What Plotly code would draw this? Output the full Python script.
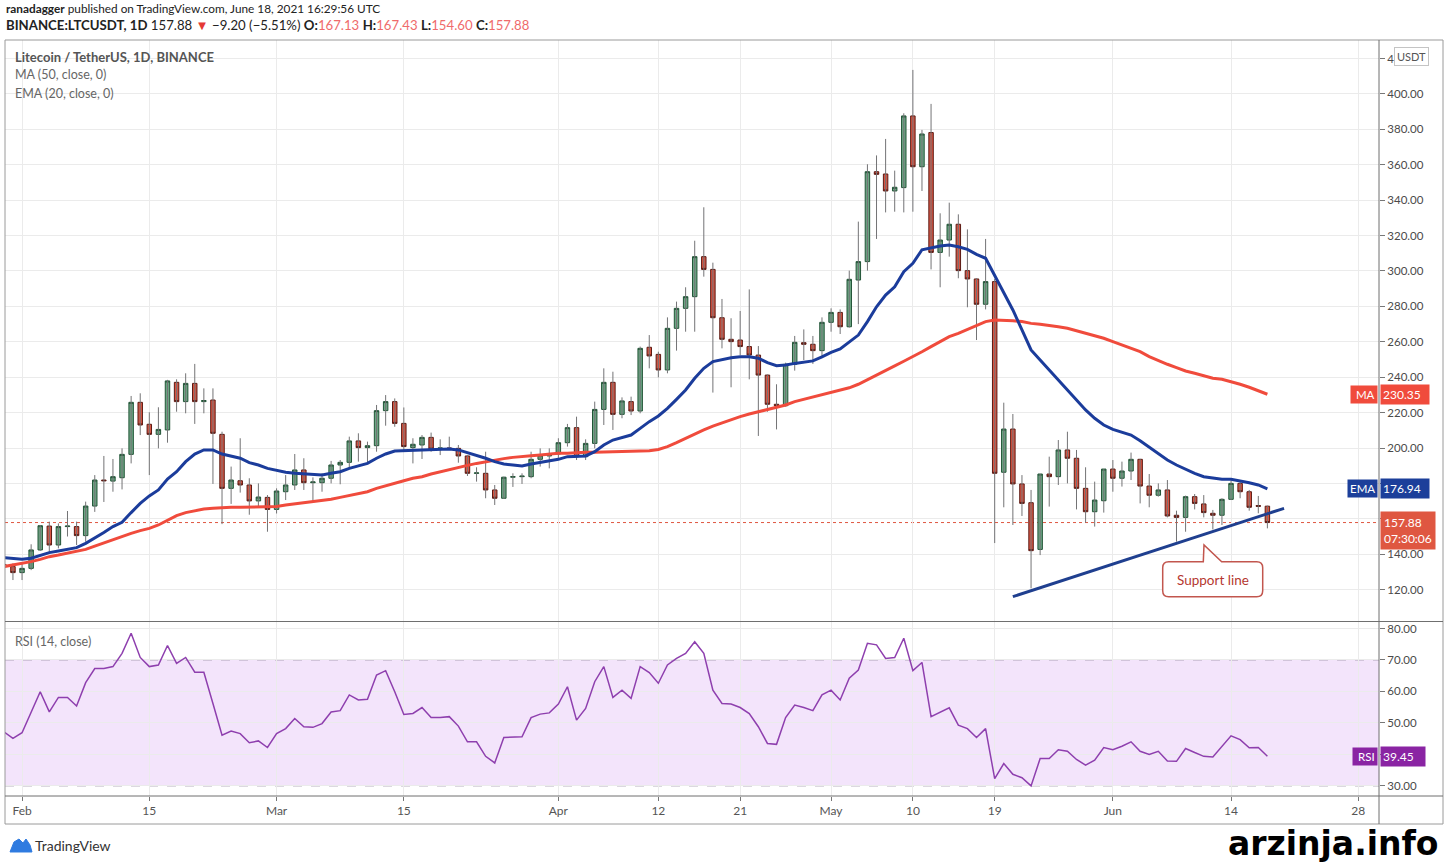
import plotly.graph_objects as go
import pandas as pd

# ---------------- data ----------------
dates = pd.date_range("2021-01-30", periods=140, freq="D")

open_ = [134.2, 133.0,
         129.6, 132.0, 142.4, 155.9, 145.2, 155.6, 155.6, 150.5, 167.2, 181.9, 181.3, 183.2, 196.4, 225.8,
         213.4, 207.7, 210.2, 237.1, 226.2, 236.5, 226.2, 227.1, 207.7, 177.2, 181.5, 179.1, 170.1, 172.1,
         165.3, 175.3, 179.1, 187.6, 180.4, 180.4, 182.9, 190.4, 191.9, 204.0, 200.2, 201.3, 221.1, 226.2,
         213.9, 200.2, 201.7, 206.0, 199.8, 200.0, 199.8, 195.5, 185.7, 185.7, 176.3, 171.6, 183.5, 183.8,
         183.8, 193.6, 195.5,
         196.6, 203.0, 211.5, 195.1, 202.6, 221.8, 237.1, 219.0, 226.2, 220.9, 256.9, 252.9, 244.1, 267.6,
         278.9, 285.5, 308.1, 300.9, 273.6, 261.4, 261.0, 257.3, 252.5, 241.2, 224.7, 223.9, 247.3, 259.5,
         258.6, 255.0,
         271.0, 276.6, 268.5, 294.9, 305.3, 356.1, 354.8, 345.2, 347.1, 387.6, 358.9, 378.2, 310.5, 317.5,
         326.4, 300.2, 295.5, 281.2, 294.0, 186.3, 210.7, 179.7, 169.1, 142.7, 185.3, 183.8, 198.9, 194.2,
         177.2, 164.0, 170.2,
         188.1, 182.9, 187.0, 193.6, 178.5, 173.3, 176.3, 162.0, 160.8, 172.5, 168.4, 163.1, 162.0, 171.0,
         180.0, 175.3, 167.5, 167.13]

high = [135.5, 134.8,
        134.8, 145.6, 156.5, 158.4, 157.4, 164.4, 158.4, 169.7, 184.7, 195.5, 193.8, 199.8, 229.4, 230.9,
        220.2, 223.0, 238.5, 238.8, 242.2, 247.5, 233.7, 233.7, 209.2, 189.5, 205.5, 182.9, 180.0, 173.4,
        177.2, 184.7, 196.6, 194.2, 183.4, 185.7, 192.7, 193.2, 206.4, 208.3, 203.6, 224.3, 229.9, 228.0,
        222.9, 205.5, 207.3, 208.7, 204.9, 206.4, 201.7, 195.9, 189.1, 197.9, 179.1, 183.8, 185.7, 185.7,
        197.9, 199.8, 199.8,
        205.5, 213.6, 217.7, 204.9, 226.2, 245.0, 243.1, 228.6, 229.0, 257.3, 263.8, 254.4, 273.8, 282.7,
        290.8, 317.1, 336.0, 304.7, 284.2, 273.3, 277.4, 289.6, 257.6, 241.5, 236.0, 248.2, 263.3, 267.0,
        263.3, 273.8,
        278.9, 278.3, 300.2, 327.9, 360.3, 365.3, 374.6, 356.7, 389.1, 413.6, 379.7, 394.4, 332.6, 338.6,
        332.0, 323.5, 295.9, 318.1, 295.5, 225.6, 219.2, 184.7, 176.3, 185.3, 195.1, 204.5, 209.2, 198.9,
        189.1, 181.0, 188.1,
        193.2, 192.3, 197.4, 193.9, 185.3, 180.0, 181.9, 164.6, 173.1, 174.0, 173.4, 165.0, 171.6, 181.5,
        181.5, 176.3, 172.9, 167.43]

low = [130.5, 125.4,
       125.4, 131.0, 141.8, 140.5, 143.3, 150.0, 145.2, 147.1, 163.9, 169.5, 175.3, 176.6, 191.3, 207.3,
       184.7, 199.8, 203.0, 220.5, 219.6, 213.6, 219.6, 179.7, 157.0, 168.4, 174.8, 162.3, 166.9, 152.7,
       163.0, 170.6, 176.3, 176.3, 169.7, 175.3, 180.0, 179.5, 188.5, 192.3, 191.3, 197.9, 212.6, 212.0,
       197.9, 191.3, 193.8, 197.9, 196.0, 198.9, 191.7, 184.2, 181.0, 171.6, 167.8, 171.2, 178.0, 179.7,
       182.9, 189.5, 188.5,
       194.2, 200.8, 193.2, 193.2, 199.8, 213.0, 210.2, 216.8, 218.6, 219.6, 245.0, 239.9, 242.2, 255.0,
       265.7, 265.7, 296.8, 231.3, 256.3, 234.3, 252.5, 238.8, 206.8, 220.5, 210.5, 223.4, 243.7, 249.7,
       247.5, 251.6,
       265.7, 264.4, 268.0, 270.0, 300.2, 318.1, 333.1, 333.5, 333.1, 333.5, 345.2, 300.9, 290.8, 308.1,
       295.9, 279.5, 261.0, 278.3, 146.3, 166.5, 156.5, 161.6, 120.7, 139.5, 166.9, 179.1, 180.0, 165.3,
       157.8, 155.6, 163.5,
       175.3, 178.2, 181.9, 168.7, 166.5, 172.5, 160.8, 147.1, 152.7, 165.3, 160.8, 154.0, 156.5, 170.6,
       171.6, 164.6, 163.1, 154.60]

close = [132.8, 129.6,
         132.0, 142.4, 156.1, 145.2, 155.6, 155.9, 150.5, 167.2, 181.9, 181.5, 183.8, 196.4, 225.8, 213.0,
         207.7, 210.5, 237.9, 226.2, 236.5, 226.2, 226.8, 208.3, 177.2, 181.9, 179.1, 170.1, 172.3, 165.3,
         175.7, 179.1, 187.6, 180.4, 180.8, 182.9, 190.4, 191.9, 204.0, 200.2, 201.3, 221.1, 226.2, 213.9,
         200.8, 202.1, 206.0, 199.4, 200.0, 199.8, 195.5, 185.7, 185.9, 176.3, 171.6, 183.5, 183.8, 184.1,
         193.6, 196.0, 196.6,
         203.0, 211.5, 195.1, 202.6, 221.8, 237.1, 219.0, 226.6, 220.9, 256.3, 252.0, 244.1, 267.6, 278.9,
         285.5, 308.1, 300.9, 273.6, 261.4, 260.1, 257.3, 252.5, 241.2, 224.7, 223.9, 247.3, 259.7, 258.6,
         255.0, 271.0,
         276.6, 268.5, 295.3, 305.3, 356.1, 354.6, 345.2, 347.3, 387.6, 358.9, 377.4, 310.5, 317.5, 326.4,
         300.2, 295.5, 281.2, 294.0, 185.7, 210.7, 179.7, 168.7, 142.0, 185.3, 183.8, 198.9, 194.2, 177.2,
         164.0, 170.6, 188.1,
         182.9, 187.0, 193.6, 178.5, 173.3, 176.3, 161.6, 160.8, 172.5, 168.7, 163.5, 162.0, 171.0, 180.0,
         175.3, 166.5, 167.08, 157.88]

ema20 = [138.0, 137.4,
         137.1, 137.7, 139.5, 140.9, 141.8, 142.7, 143.7, 146.1, 149.0, 152.2, 155.6, 158.0, 163.5, 168.7,
         172.9, 176.3, 182.5, 186.6, 192.3, 196.6, 198.9, 198.9, 196.6, 195.5, 194.2, 191.7, 190.4, 188.5,
         187.2, 186.3, 185.7, 185.3, 184.7, 184.7, 185.7, 186.6, 188.5, 189.8, 191.3, 194.2, 196.6, 198.3,
         198.5, 198.9, 199.2, 199.4, 199.4, 199.4, 198.9, 197.4, 195.5, 194.2, 192.3, 191.0, 190.4, 189.8,
         191.0, 191.8, 192.5,
         193.6, 195.1, 195.1, 195.5, 197.9, 201.7, 204.5, 206.0, 207.3, 211.1, 214.9, 218.1, 222.4, 227.5,
         232.8, 239.4, 245.0, 248.8, 250.1, 251.0, 251.6, 251.6, 250.7, 248.2, 246.5, 246.9, 247.8, 248.4,
         249.2, 251.5,
         254.0, 256.0, 259.8, 263.8, 271.4, 279.8, 286.4, 291.1, 299.6, 304.3, 312.0, 313.2, 314.1, 314.7,
         313.7, 312.2, 309.4, 307.2, 297.5, 287.4, 278.0, 266.7, 255.4, 249.7, 244.1, 238.4, 233.1, 227.1,
         221.5, 216.8, 213.0,
         210.5, 208.9, 207.3, 204.1, 200.4, 197.0, 193.2, 190.4, 187.9, 185.7, 183.8, 182.9, 182.3, 182.3,
         181.5, 180.4, 179.1, 176.94]

ma50 = [133.0, 133.9,
        134.8, 135.8, 137.1, 138.6, 139.5, 140.5, 141.4, 142.7, 144.6, 146.5, 148.4, 149.9, 151.8, 153.3,
        154.6, 156.5, 159.3, 161.8, 163.5, 164.6, 165.5, 165.9, 166.3, 166.5, 166.5, 166.5, 166.5, 166.7,
        166.9, 167.8, 168.4, 169.1, 169.7, 170.2, 171.0, 172.1, 173.1, 174.0, 175.3, 177.2, 178.5, 180.0,
        181.5, 182.9, 183.8, 185.3, 186.6, 187.9, 189.1, 190.2, 191.3, 192.3, 193.2, 194.0, 194.7, 195.3,
        195.6, 196.0, 196.6,
        197.0, 197.0, 197.4, 197.6, 197.6, 197.7, 197.7, 197.9, 197.9, 198.3, 198.5, 199.2, 200.8, 203.0,
        205.5, 207.7, 210.2, 212.4, 214.3, 215.8, 217.7, 219.2, 220.5, 221.8, 223.4, 224.3, 226.2, 227.5,
        228.6, 229.8,
        231.0, 232.5, 234.0, 236.0, 238.5, 241.0, 243.8, 246.4, 249.0, 251.6, 254.4, 257.3, 260.1, 262.9,
        264.8, 267.0, 269.5, 271.4, 272.3, 272.3, 271.9, 271.4, 270.4, 269.9, 269.3, 268.5, 267.6, 266.3,
        264.8, 263.3, 262.0,
        260.1, 258.2, 256.3, 254.4, 251.6, 249.3, 247.3, 245.4, 243.5, 242.2, 240.7, 239.4, 238.8, 237.5,
        236.0, 234.3, 232.4, 230.35]

rsi14 = [47.2, 45.1,
         46.9, 53.2, 59.9, 53.5, 58.1, 58.1, 55.4, 62.8, 67.3, 67.3, 67.9, 72.1, 78.5, 70.8,
         67.9, 68.4, 74.6, 68.9, 70.8, 66.1, 66.1, 56.2, 46.1, 47.4, 46.6, 43.7, 44.3, 42.2,
         46.6, 48.2, 51.4, 48.8, 48.6, 49.8, 53.5, 53.9, 58.9, 57.3, 57.5, 65.2, 66.6, 59.9,
         52.7, 53.0, 54.9, 51.7, 51.7, 52.0, 49.0, 44.0, 44.0, 39.4, 37.3, 45.4, 45.6, 45.6,
         51.7, 52.8, 53.2,
         56.0, 61.5, 50.9, 54.6, 63.1, 67.9, 58.1, 60.4, 57.8, 67.9, 66.0, 62.6, 68.4, 70.5,
         72.1, 75.8, 72.1, 60.4, 56.2, 56.0, 54.9, 53.0, 48.8, 43.5, 43.2, 51.7, 55.7, 54.9,
         53.9, 58.9,
         60.4, 57.3, 64.2, 66.8, 75.3, 74.8, 70.5, 70.8, 76.9, 66.6, 69.2, 52.0, 53.5, 54.8,
         49.3, 48.2, 45.4, 48.2, 32.3, 37.1, 33.7, 32.6, 30.0, 38.7, 38.7, 41.5, 41.0, 38.4,
         36.6, 38.2, 42.2,
         41.5, 42.6, 44.0, 41.0, 40.0, 41.0, 37.9, 37.8, 41.9, 40.6, 39.4, 39.2, 42.4, 45.9,
         44.7, 42.1, 42.2, 39.45]

tick_dates = ["2021-02-01", "2021-02-15", "2021-03-01", "2021-03-15", "2021-04-01", "2021-04-12",
              "2021-04-21", "2021-05-01", "2021-05-10", "2021-05-19", "2021-06-01", "2021-06-14",
              "2021-06-28"]
tick_labels = ["Feb", "15", "Mar", "15", "Apr", "12", "21", "May", "10", "19", "Jun", "14", "28"]
price_ticks = list(range(120, 421, 20))
rsi_ticks = [30, 40, 50, 60, 70, 80]

support_x = ["2021-05-21 00:00", "2021-06-19 20:00"]
support_y = [116.0, 165.9]

last_price = 157.88
ma_last = 230.35
ema_last = 176.94
rsi_last = 39.45

# ---------------- geometry helpers (pixel -> paper) ----------------
W, H = 1448, 862
PL, PR, PT, PB = 5, 1379, 40, 796


def px(x):
    return (x - PL) / (PR - PL)


def py(y):
    return (PB - y) / (PB - PT)


FONT = "Lato"
UP_FILL, UP_LINE = "#6ba583", "#225437"
DN_FILL, DN_LINE = "#d75442", "#5b1a13"
WICK = "#737375"
MA_COL = "#f04b3c"
EMA_COL = "#1b3c9b"
RSI_COL = "#8e3fae"
GRID = "#ebebeb"
TXT = "#4a4a4a"

fig = go.Figure()

# wicks
wx, wy = [], []
for d, lo, hi in zip(dates, low, high):
    wx += [d, d, None]
    wy += [lo, hi, None]
fig.add_trace(go.Scatter(x=wx, y=wy, mode="lines", line=dict(color=WICK, width=1),
                         hoverinfo="skip", xaxis="x", yaxis="y"))

# bodies
body_hi = [max(o, c) for o, c in zip(open_, close)]
body_lo = [min(o, c) for o, c in zip(open_, close)]
fig.add_trace(go.Candlestick(
    x=dates, open=open_, high=body_hi, low=body_lo, close=close,
    increasing=dict(fillcolor=UP_FILL, line=dict(color=UP_LINE, width=1)),
    decreasing=dict(fillcolor=DN_FILL, line=dict(color=DN_LINE, width=1)),
    whiskerwidth=0, xaxis="x", yaxis="y"))

fig.add_trace(go.Scatter(x=dates, y=ma50, mode="lines", line=dict(color=MA_COL, width=3),
                         xaxis="x", yaxis="y"))
fig.add_trace(go.Scatter(x=dates, y=ema20, mode="lines", line=dict(color=EMA_COL, width=3),
                         xaxis="x", yaxis="y"))
fig.add_trace(go.Scatter(x=support_x, y=support_y, mode="lines", line=dict(color="#1f3f8f", width=3),
                         xaxis="x", yaxis="y"))
fig.add_trace(go.Scatter(x=dates, y=rsi14, mode="lines", line=dict(color=RSI_COL, width=1.5),
                         xaxis="x", yaxis="y2"))

shapes = []
# RSI band
shapes.append(dict(type="rect", xref="paper", yref="y2", x0=0, x1=1, y0=30, y1=70,
                   fillcolor="#f3e4fb", line=dict(width=0), layer="below"))
for lvl in (70, 30):
    shapes.append(dict(type="line", xref="paper", yref="y2", x0=0, x1=1, y0=lvl, y1=lvl,
                       line=dict(color="#aaa0b4", width=1, dash="dash"), layer="below"))
# last price dotted line
shapes.append(dict(type="line", xref="paper", yref="y", x0=0, x1=1, y0=last_price, y1=last_price,
                   line=dict(color="#df5741", width=1, dash="dot"), layer="below"))
# frame
FR = px(1443)
FB = py(824)
shapes.append(dict(type="rect", xref="paper", yref="paper", x0=0, x1=FR, y0=FB, y1=1,
                   line=dict(color="#9a9a9a", width=1), layer="above"))
shapes.append(dict(type="line", xref="paper", yref="paper", x0=1, x1=1, y0=FB, y1=1,
                   line=dict(color="#6f6f6f", width=1), layer="above"))
shapes.append(dict(type="line", xref="paper", yref="paper", x0=0, x1=FR, y0=0, y1=0,
                   line=dict(color="#6f6f6f", width=1), layer="above"))
shapes.append(dict(type="line", xref="paper", yref="paper", x0=0, x1=FR, y0=py(621.5), y1=py(621.5),
                   line=dict(color="#6f6f6f", width=1.2), layer="above"))

# callout box "Support line"
pts = [("M", [(1168.7, 561.7)]), ("L", [(1203.3, 561.7)]), ("L", [(1204.0, 545.0)]),
       ("L", [(1221.7, 561.7)]), ("L", [(1256.7, 561.7)]), ("Q", [(1262.7, 561.7), (1262.7, 567.7)]),
       ("L", [(1262.7, 590.7)]), ("Q", [(1262.7, 596.7), (1256.7, 596.7)]), ("L", [(1168.7, 596.7)]),
       ("Q", [(1162.7, 596.7), (1162.7, 590.7)]), ("L", [(1162.7, 567.7)]),
       ("Q", [(1162.7, 561.7), (1168.7, 561.7)])]
path = ""
for cmd, cs in pts:
    path += cmd + " " + " ".join(f"{px(a):.5f},{py(b):.5f}" for a, b in cs) + " "
path += "Z"
shapes.append(dict(type="path", xref="paper", yref="paper", path=path, fillcolor="white",
                   line=dict(color="#c2564e", width=1.5), layer="above"))

# TradingView logo (simple cloud mark)
logo = [(10, 852), (14, 842), (19, 839), (23, 843), (26, 839), (30, 845), (32, 852)]
lp = "M " + " L ".join(f"{px(a):.5f},{py(b):.5f}" for a, b in logo) + " Z"
shapes.append(dict(type="path", xref="paper", yref="paper", path=lp, fillcolor="#2f7be0",
                   line=dict(color="#2f7be0", width=1), layer="above"))

ann = []


def txt(x, y, s, size=12.5, color=TXT, anchor="left", family=FONT, **kw):
    ann.append(dict(xref="paper", yref="paper", x=px(x), y=py(y), text=s, showarrow=False,
                    xanchor=anchor, yanchor="middle", font=dict(size=size, color=color, family=family),
                    **kw))


txt(4, 8, "<b>ranadagger</b> published on TradingView.com, June 18, 2021 16:29:56 UTC", size=11.8, color="#222")
red = "#ef6b6b"
txt(4, 25, "<b>BINANCE:LTCUSDT, 1D</b> 157.88 <span style='color:#e53935'>▼</span> −9.20 (−5.51%) "
    f"<b>O:</b><span style='color:{red}'>167.13</span> <b>H:</b><span style='color:{red}'>167.43</span> "
    f"<b>L:</b><span style='color:{red}'>154.60</span> <b>C:</b><span style='color:{red}'>157.88</span>",
    size=13.2, color="#222")
txt(13, 57, "<b>Litecoin / TetherUS, 1D, BINANCE</b>", size=13, color="#555")
txt(13, 75, "MA (50, close, 0)", size=12.5, color="#666")
txt(13, 93, "EMA (20, close, 0)", size=12.5, color="#666")
txt(13, 641, "RSI (14, close)", size=12.5, color="#666")
txt(1212.7, 579.5, "Support line", size=13.5, color="#b5372f", anchor="center")
txt(33, 845, "TradingView", size=14, color="#333")
txt(1441, 843, "<b>arzinja.info</b>", size=33, color="#000", anchor="right", family="DejaVu Sans")
txt(1411, 57, "USDT", size=11, color="#555", anchor="center", bgcolor="white",
    bordercolor="#c4c4c4", borderwidth=1, borderpad=2)


def tag(yref, yv, left, right, color):
    ann.append(dict(xref="paper", yref=yref, x=1, y=yv, xanchor="right", yanchor="middle", xshift=-1,
                    text=left, showarrow=False, bgcolor=color, borderpad=2,
                    font=dict(size=11.5, color="white", family=FONT)))
    ann.append(dict(xref="paper", yref=yref, x=1, y=yv, xanchor="left", yanchor="middle", xshift=1,
                    text=right, showarrow=False, bgcolor=color, borderpad=2,
                    font=dict(size=12, color="white", family=FONT)))


tag("y", ma_last, " MA", f"{ma_last:.2f}  ", MA_COL)
tag("y", ema_last, "EMA", f"{ema_last:.2f}  ", "#1c3f9a")
tag("y2", rsi_last, " RSI", f"{rsi_last:.2f}   ", "#8a24a3")
ann.append(dict(xref="paper", yref="y", x=1, y=last_price, xanchor="left", yanchor="top", xshift=1,
                yshift=12, text=f"{last_price:.2f}<br>07:30:06", showarrow=False, bgcolor="#df5741",
                borderpad=3, align="left", font=dict(size=12, color="white", family=FONT)))

fig.update_layout(
    width=W, height=H,
    margin=dict(l=PL, r=W - PR, t=PT, b=H - PB),
    paper_bgcolor="white", plot_bgcolor="white",
    showlegend=False, hovermode=False,
    shapes=shapes, annotations=ann,
    font=dict(family=FONT, color=TXT),
    xaxis=dict(type="date", range=["2021-01-30 03:00", "2021-06-30 06:40"], anchor="y2",
               tickvals=tick_dates, ticktext=tick_labels, ticks="outside", ticklen=4,
               tickcolor="#777", showgrid=True, gridcolor=GRID, showline=False, zeroline=False,
               rangeslider=dict(visible=False), tickfont=dict(size=12, color="#555")),
    yaxis=dict(domain=[py(621), 1], range=[102.26, 430.5], side="right", tickvals=price_ticks,
               tickformat=".2f", ticks="outside", ticklen=5, tickcolor="#777", showgrid=True,
               gridcolor=GRID, zeroline=False, showline=False, tickfont=dict(size=11.5, color=TXT)),
    yaxis2=dict(domain=[0, py(622)], range=[26.8, 82.06], side="right", tickvals=rsi_ticks,
                tickformat=".2f", ticks="outside", ticklen=5, tickcolor="#777", showgrid=True,
                gridcolor=GRID, zeroline=False, showline=False, tickfont=dict(size=11.5, color=TXT)),
)

fig.write_html("out.html", config={"displayModeBar": False},
               post_script="document.body.style.margin='0';document.body.style.overflow='hidden';")
